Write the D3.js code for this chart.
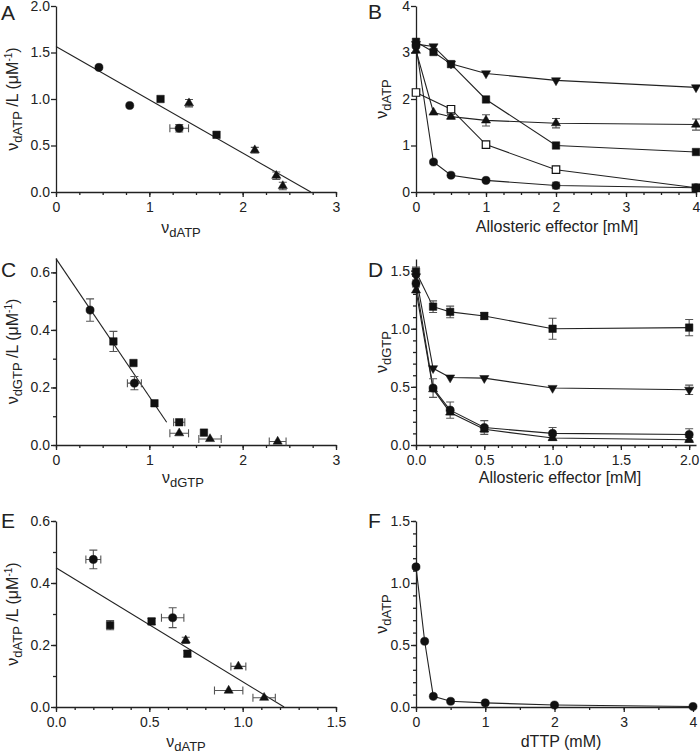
<!DOCTYPE html>
<html>
<head>
<meta charset="utf-8">
<script src="https://cdn.jsdelivr.net/npm/d3@7"></script>
<style>
  body { margin: 0; background: #fff; }
  text { font-family: "Liberation Sans", Arial, sans-serif; fill: #222; }
  .axis path, .axis line { stroke: #222; stroke-width: 1.3; }
  .lbl { white-space: pre; }
</style>
</head>
<body>
<div id="chart"></div>
<script>
// ---- Panel A : Scatchard dATP ----
const aCircle = [{x: 0.46, y: 1.34}, {x: 0.79, y: 0.93}, {x: 1.32, y: 0.685, ex: 0.1, ey: 0.04}];
const aSquare = [{x: 1.12, y: 1.0}, {x: 1.72, y: 0.615}];
const aTriangle = [{x: 1.425, y: 0.955, ey: 0.04}, {x: 2.13, y: 0.45, ey: 0.03}, {x: 2.36, y: 0.175, ey: 0.04}, {x: 2.43, y: 0.065, ey: 0.04}];
const aFit = [{x: 0, y: 1.565}, {x: 2.73, y: 0}];
const aXTicks = [0, 1, 2, 3];
const aYTicks = [0, 0.5, 1, 1.5, 2];

// ---- Panel B : dATP vs allosteric effector ----
const bDose = [0, 0.25, 0.5, 1, 2, 4];
const bDownTri = [3.18, 3.13, 2.76, 2.55, 2.40, 2.25];
const bSquare = [3.23, 3.01, 2.75, 1.99, 1.00, 0.86];
const bTriangle = [3.04, 1.71, 1.62, 1.54, 1.48, 1.45];
const bTriangleErr = [0, 0, 0.05, 0.12, 0.1, 0.12];
const bCircle = [3.14, 0.645, 0.36, 0.25, 0.14, 0.09];
const bCircleErr = [0, 0, 0, 0, 0.07, 0];
const bOpenDose = [0, 0.5, 1, 2, 4];
const bOpenSquare = [2.14, 1.78, 1.02, 0.48, 0.09];
const bXTicks = [0, 1, 2, 3, 4];
const bYTicks = [0, 1, 2, 3, 4];

// ---- Panel C : Scatchard dGTP ----
const cCircle = [{x: 0.365, y: 0.469, ey: 0.039}, {x: 0.84, y: 0.215, ex: 0.075, ey: 0.023}];
const cSquare = [{x: 0.615, y: 0.36, ey: 0.035}, {x: 0.83, y: 0.285}, {x: 1.055, y: 0.145}, {x: 1.32, y: 0.079, ex: 0.06}, {x: 1.585, y: 0.043}];
const cTriangle = [{x: 1.32, y: 0.041, ex: 0.1}, {x: 1.65, y: 0.021, ex: 0.12}, {x: 2.375, y: 0.012, ex: 0.09}];
const cFit = [{x: 0, y: 0.648}, {x: 1.186, y: 0.079}];
const cXTicks = [0, 1, 2, 3];
const cYTicks = [0, 0.2, 0.4, 0.6];

// ---- Panel D : dGTP vs allosteric effector ----
const dDose = [0, 0.125, 0.25, 0.5, 1, 2];
const dSquare = [1.49, 1.19, 1.145, 1.11, 1.0, 1.01];
const dSquareErr = [0.04, 0.05, 0.05, 0.03, 0.09, 0.07];
const dDownTri = [1.45, 0.66, 0.58, 0.575, 0.49, 0.475];
const dDownTriErr = [0, 0, 0, 0, 0, 0.04];
const dCircle = [1.39, 0.49, 0.30, 0.15, 0.10, 0.09];
const dCircleErr = [0.03, 0.08, 0.07, 0.06, 0.05, 0.05];
const dTriangle = [1.33, 0.48, 0.28, 0.135, 0.06, 0.045];
const dTriangleErr = [0, 0, 0.02, 0.03, 0.02, 0.02];
const dXTicks = [0, 0.5, 1, 1.5, 2];
const dYTicks = [0, 0.5, 1, 1.5];

// ---- Panel E : Scatchard dATP ----
const eCircle = [{x: 0.2, y: 0.476, ex: 0.04, ey: 0.03}, {x: 0.625, y: 0.288, ex: 0.06, ey: 0.032}];
const eSquare = [{x: 0.29, y: 0.264, ey: 0.015}, {x: 0.512, y: 0.276, ey: 0.01}, {x: 0.704, y: 0.172, ey: 0.01}];
const eTriangle = [{x: 0.695, y: 0.215, ey: 0.01}, {x: 0.977, y: 0.131, ex: 0.04}, {x: 0.925, y: 0.053, ex: 0.076}, {x: 1.115, y: 0.03, ex: 0.06}];
const eFit = [{x: 0, y: 0.449}, {x: 1.222, y: 0}];
const eXTicks = [0, 0.5, 1, 1.5];
const eYTicks = [0, 0.2, 0.4, 0.6];

// ---- Panel F : dATP vs dTTP ----
const fDose = [0, 0.125, 0.25, 0.5, 1, 2, 4];
const fCircle = [1.13, 0.53, 0.086, 0.046, 0.033, 0.016, 0.004];
const fXTicks = [0, 1, 2, 3, 4];
const fYTicks = [0, 0.5, 1, 1.5];

const svg = d3.select("#chart").append("svg")
  .attr("width", 700).attr("height", 752)
  .style("background", "#fff");

const ink = "#111";
const errInk = "#555";

function zip(xs, ys, errs) {
  return xs.map((v, i) => ({x: v, y: ys[i], ey: errs ? errs[i] : 0}));
}

function symbolPath(shape) {
  if (shape === "circle") return d3.symbol(d3.symbolCircle, 52)();
  if (shape === "square" || shape === "open") return d3.symbol(d3.symbolSquare, 56)();
  return d3.symbol(d3.symbolTriangle, 36)();
}

// rich text with subscripts (k=1) and superscripts (k=2)
function richText(sel, parts) {
  let shift = 0;
  parts.forEach(([t, k]) => {
    const target = k === 1 ? 4 : k === 2 ? -6 : 0;
    sel.append("tspan")
      .attr("dy", target - shift)
      .attr("font-size", k === 1 ? 13 : k === 2 ? 10 : 16)
      .text(t);
    shift = target;
  });
}

function makePanel(p) {
  const x = d3.scaleLinear().domain(p.xDomain).range(p.xRange);
  const y = d3.scaleLinear().domain(p.yDomain).range(p.yRange);
  const g = svg.append("g");
  const yBase = p.yRange[0], xBase = p.xRange[0];

  // axes
  if (p.xMinor) {
    g.append("g").attr("class", "axis").attr("transform", `translate(0,${yBase})`)
      .call(d3.axisBottom(x).tickValues(p.xMinor).tickSize(3).tickFormat(""))
      .call(s => s.select(".domain").remove());
  }
  g.append("g").attr("class", "axis").attr("transform", `translate(0,${yBase})`)
    .call(d3.axisBottom(x).tickValues(p.xTicks).tickSize(5).tickSizeOuter(0).tickPadding(5).tickFormat(d3.format(p.xFmt)))
    .attr("font-size", 14).attr("font-family", null);
  if (p.yMinor) {
    g.append("g").attr("class", "axis").attr("transform", `translate(${xBase},0)`)
      .call(d3.axisLeft(y).tickValues(p.yMinor).tickSize(3).tickFormat(""))
      .call(s => s.select(".domain").remove());
  }
  g.append("g").attr("class", "axis").attr("transform", `translate(${xBase},0)`)
    .call(d3.axisLeft(y).tickValues(p.yTicks).tickSize(5).tickSizeOuter(0).tickPadding(1).tickFormat(d3.format(p.yFmt)))
    .attr("font-size", 14).attr("font-family", null);

  // panel letter
  g.append("text").attr("x", p.letterX).attr("y", p.letterY)
    .attr("font-size", 21).text(p.letter);

  // axis titles
  const xt = g.append("text").attr("class", "lbl")
    .attr("x", p.xLabelX).attr("y", p.xLabelY)
    .attr("text-anchor", "middle").attr("font-size", 16);
  richText(xt, p.xLabel);
  const yt = g.append("text").attr("class", "lbl")
    .attr("transform", `translate(${p.yLabelX},${(p.yRange[0] + p.yRange[1]) / 2}) rotate(-90)`)
    .attr("text-anchor", "middle").attr("font-size", 16);
  richText(yt, p.yLabel);

  const line = d3.line().x(d => x(d.x)).y(d => y(d.y));

  // fit lines and connecting lines
  (p.lines || []).forEach(pts => {
    g.append("path").attr("d", line(pts))
      .attr("fill", "none").attr("stroke", "#222").attr("stroke-width", 1.1);
  });

  // error bars
  const cap = 4;
  (p.series || []).forEach(s => {
    s.pts.forEach(d => {
      if (d.ey) {
        const y0 = y(d.y - d.ey), y1 = y(d.y + d.ey), cx = x(d.x);
        g.append("path")
          .attr("d", `M${cx},${y0}V${y1}M${cx - cap},${y0}H${cx + cap}M${cx - cap},${y1}H${cx + cap}`)
          .attr("stroke", errInk).attr("stroke-width", 1.1).attr("fill", "none");
      }
      if (d.ex) {
        const x0 = x(d.x - d.ex), x1 = x(d.x + d.ex), cy = y(d.y);
        g.append("path")
          .attr("d", `M${x0},${cy}H${x1}M${x0},${cy - cap}V${cy + cap}M${x1},${cy - cap}V${cy + cap}`)
          .attr("stroke", errInk).attr("stroke-width", 1.1).attr("fill", "none");
      }
    });
  });

  // markers
  (p.series || []).forEach(s => {
    g.selectAll(null).data(s.pts).enter().append("path")
      .attr("d", symbolPath(s.shape))
      .attr("transform", d => `translate(${x(d.x)},${y(d.y)})` + (s.shape === "down" ? " rotate(180)" : ""))
      .attr("fill", s.shape === "open" ? "#fff" : ink)
      .attr("stroke", ink)
      .attr("stroke-width", s.shape === "open" ? 1.2 : 0.5);
  });
}

const nuATP = [["ν", 0], ["dATP", 1]];
const nuGTP = [["ν", 0], ["dGTP", 1]];
const scatATP = [["ν", 0], ["dATP", 1], [" /L (μM", 0], ["-1", 2], [")", 0]];
const scatGTP = [["ν", 0], ["dGTP", 1], [" /L (μM", 0], ["-1", 2], [")", 0]];
const effector = [["Allosteric effector [mM]", 0]];

// A
makePanel({
  letter: "A", letterX: 1, letterY: 20,
  xDomain: [0, 3], xRange: [56, 336], yDomain: [0, 2], yRange: [192, 6],
  xTicks: aXTicks, xMinor: d3.range(0, 3.01, 0.25), xFmt: "d",
  yTicks: aYTicks, yFmt: ".1f",
  xLabel: nuATP, xLabelX: 181, xLabelY: 233,
  yLabel: scatATP, yLabelX: 18,
  lines: [aFit],
  series: [
    {shape: "circle", pts: aCircle},
    {shape: "square", pts: aSquare},
    {shape: "tri", pts: aTriangle}
  ]
});

// B
makePanel({
  letter: "B", letterX: 368, letterY: 19,
  xDomain: [0, 4], xRange: [416, 696], yDomain: [0, 4], yRange: [192, 6],
  xTicks: bXTicks, xMinor: d3.range(0, 4.01, 0.25), xFmt: "d",
  yTicks: bYTicks, yFmt: "d",
  xLabel: effector, xLabelX: 557, xLabelY: 232,
  yLabel: nuATP, yLabelX: 387,
  lines: [zip(bDose, bDownTri), zip(bDose, bSquare), zip(bDose, bTriangle), zip(bOpenDose, bOpenSquare), zip(bDose, bCircle)],
  series: [
    {shape: "down", pts: zip(bDose, bDownTri)},
    {shape: "square", pts: zip(bDose, bSquare)},
    {shape: "tri", pts: zip(bDose, bTriangle, bTriangleErr)},
    {shape: "open", pts: zip(bOpenDose, bOpenSquare)},
    {shape: "circle", pts: zip(bDose, bCircle, bCircleErr)}
  ]
});

// C
makePanel({
  letter: "C", letterX: 1, letterY: 277,
  xDomain: [0, 3], xRange: [56, 336], yDomain: [0, 0.65], yRange: [445, 258],
  xTicks: cXTicks, xMinor: d3.range(0, 3.01, 0.25), xFmt: "d",
  yTicks: cYTicks, yMinor: d3.range(0, 0.61, 0.1), yFmt: ".1f",
  xLabel: nuGTP, xLabelX: 183, xLabelY: 483,
  yLabel: scatGTP, yLabelX: 18,
  lines: [cFit],
  series: [
    {shape: "circle", pts: cCircle},
    {shape: "square", pts: cSquare},
    {shape: "tri", pts: cTriangle}
  ]
});

// D
makePanel({
  letter: "D", letterX: 368, letterY: 277,
  xDomain: [0, 2.05], xRange: [416, 696], yDomain: [0, 1.6], yRange: [445, 259],
  xTicks: dXTicks, xMinor: d3.range(0, 2.01, 0.1), xFmt: ".1f",
  yTicks: dYTicks, yMinor: d3.range(0, 1.51, 0.1), yFmt: ".1f",
  xLabel: effector, xLabelX: 560, xLabelY: 483,
  yLabel: [["ν", 0], ["dGTP", 1]], yLabelX: 387,
  lines: [zip(dDose, dSquare), zip(dDose, dDownTri), zip(dDose, dCircle), zip(dDose, dTriangle)],
  series: [
    {shape: "square", pts: zip(dDose, dSquare, dSquareErr)},
    {shape: "down", pts: zip(dDose, dDownTri, dDownTriErr)},
    {shape: "tri", pts: zip(dDose, dTriangle, dTriangleErr)},
    {shape: "circle", pts: zip(dDose, dCircle, dCircleErr)}
  ]
});

// E
makePanel({
  letter: "E", letterX: 1, letterY: 528,
  xDomain: [0, 1.5], xRange: [56, 336], yDomain: [0, 0.6], yRange: [707, 521],
  xTicks: eXTicks, xMinor: d3.range(0, 1.51, 0.1), xFmt: ".1f",
  yTicks: eYTicks, yMinor: d3.range(0, 0.61, 0.1), yFmt: ".1f",
  xLabel: nuATP, xLabelX: 186, xLabelY: 747,
  yLabel: scatATP, yLabelX: 18,
  lines: [eFit],
  series: [
    {shape: "circle", pts: eCircle},
    {shape: "square", pts: eSquare},
    {shape: "tri", pts: eTriangle}
  ]
});

// F
makePanel({
  letter: "F", letterX: 368, letterY: 528,
  xDomain: [0, 4], xRange: [416, 693], yDomain: [0, 1.5], yRange: [707, 521],
  xTicks: fXTicks, xMinor: d3.range(0, 4.01, 0.5), xFmt: "d",
  yTicks: fYTicks, yMinor: d3.range(0, 1.51, 0.1), yFmt: ".1f",
  xLabel: [["dTTP (mM)", 0]], xLabelX: 561, xLabelY: 747,
  yLabel: nuATP, yLabelX: 387,
  lines: [zip(fDose, fCircle)],
  series: [
    {shape: "circle", pts: zip(fDose, fCircle)}
  ]
});
</script>
</body>
</html>
